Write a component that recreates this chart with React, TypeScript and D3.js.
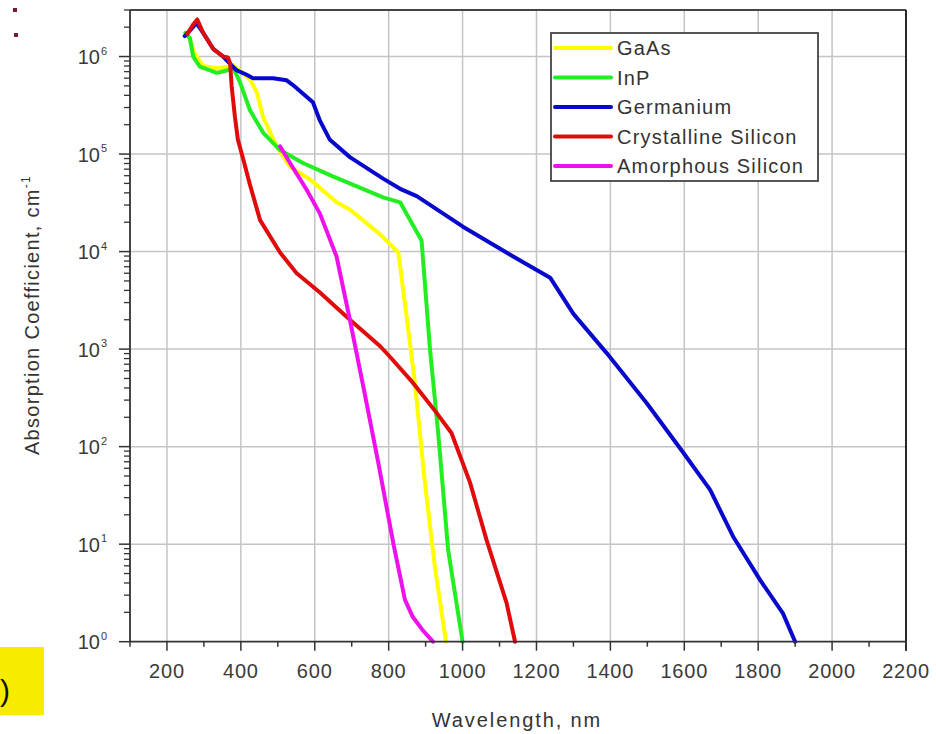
import React from 'react';
import * as d3 from 'd3';

const SERIES_NAMES = ['GaAs', 'InP', 'Germanium', 'Crystalline Silicon', 'Amorphous Silicon'];
const SERIES_COLORS = ['#ffff00', '#22ee22', '#0808cc', '#e00c0c', '#ee11ee'];

const GAAS_WL = [250, 262, 276, 298, 335, 362, 378, 400, 425, 443, 460, 497, 533, 587, 659, 695, 777, 826, 849, 871, 898, 925, 955];
const GAAS_AC = [1.75e6, 1.5e6, 1.05e6, 8.0e5, 7.6e5, 7.8e5, 8.2e5, 7.0e5, 5.8e5, 4.3e5, 2.4e5, 1.2e5, 7.4e4, 5.5e4, 3.2e4, 2.7e4, 1.5e4, 9.8e3, 2.1e3, 450, 43, 5.9, 1.0];

const INP_WL = [250, 262, 271, 289, 335, 362, 379, 390, 398, 425, 460, 506, 568, 649, 785, 831, 889, 912, 934, 961, 1000];
const INP_AC = [1.75e6, 1.55e6, 1.0e6, 7.9e5, 6.8e5, 7.2e5, 7.6e5, 6.3e5, 5.4e5, 2.8e5, 1.66e5, 1.1e5, 8.1e4, 5.9e4, 3.6e4, 3.2e4, 1.3e4, 980, 138, 8.7, 1.0];

const GE_WL = [248, 265, 280, 298, 325, 352, 375, 389, 416, 433, 487, 524, 541, 595, 614, 641, 695, 785, 831, 876, 1001, 1137, 1237, 1300, 1390, 1498, 1597, 1670, 1732, 1805, 1867, 1900];
const GE_AC = [1.62e6, 1.9e6, 2.2e6, 1.75e6, 1.2e6, 1.0e6, 8.1e5, 7.2e5, 6.5e5, 6.0e5, 6.0e5, 5.7e5, 5.1e5, 3.4e5, 2.2e5, 1.4e5, 9.3e4, 5.6e4, 4.4e4, 3.7e4, 1.8e4, 8.9e3, 5.4e3, 2.3e3, 910, 280, 87, 36, 12, 4.3, 1.95, 1.0];

const CSI_WL = [255, 270, 282, 298, 325, 352, 365, 371, 375, 384, 392, 407, 425, 452, 506, 551, 614, 695, 777, 804, 866, 925, 970, 1020, 1047, 1065, 1119, 1142];
const CSI_AC = [1.7e6, 2.1e6, 2.4e6, 1.75e6, 1.2e6, 1.0e6, 9.8e5, 8.5e5, 5.0e5, 2.4e5, 1.4e5, 8.7e4, 4.8e4, 2.1e4, 9.8e3, 6.0e3, 3.8e3, 2.0e3, 1.07e3, 830, 450, 234, 138, 43, 19, 11, 2.5, 1.0];

const ASI_WL = [506, 533, 578, 614, 659, 695, 731, 772, 813, 844, 865, 893, 920];
const ASI_AC = [1.2e5, 8.1e4, 4.3e4, 2.45e4, 8.9e3, 2.0e3, 420, 68, 10, 2.7, 1.8, 1.3, 1.0];

const X_MAJOR = [200, 400, 600, 800, 1000, 1200, 1400, 1600, 1800, 2000, 2200];
const X_MINOR = [100, 300, 500, 700, 900, 1100, 1300, 1500, 1700, 1900, 2100];
const Y_DECADES = [0, 1, 2, 3, 4, 5, 6];

const FONT = '"Liberation Sans", Arial, sans-serif';

export default function App() {
  const x = d3.scaleLinear().domain([100, 2200]).range([130, 906]);
  const y = d3.scaleLog().domain([1, 3e6]).range([641.7, 10]);
  const line = d3.line<[number, number]>().x(d => x(d[0])).y(d => y(d[1]));

  const series = [
    d3.zip(GAAS_WL, GAAS_AC),
    d3.zip(INP_WL, INP_AC),
    d3.zip(GE_WL, GE_AC),
    d3.zip(CSI_WL, CSI_AC),
    d3.zip(ASI_WL, ASI_AC),
  ] as [number, number][][];

  const yMinor: number[] = [];
  for (let k = 0; k <= 6; k++) {
    for (let m = 2; m <= 9; m++) {
      const v = m * Math.pow(10, k);
      if (v <= 3e6) yMinor.push(v);
    }
  }

  const left = x(100), right = x(2200), top = y(3e6), bottom = y(1);

  return (
    <svg width={936} height={734} style={{ position: 'absolute', left: 0, top: 0, background: '#fff' }} fontFamily={FONT}>
      <rect x={0} y={0} width={936} height={734} fill="#fff" />
      {/* decorations */}
      <rect x={13} y={8} width={4} height={4} fill="#7a1838" />
      <rect x={14} y={33} width={4} height={4} fill="#7a1838" />
      <rect x={0} y={647} width={44} height={68} fill="#f7ec00" />
      <text x={0} y={701} fontSize={30} fill="#111">)</text>

      {/* grid */}
      {X_MAJOR.filter(v => v < 2200).map(v => (
        <line key={'gx' + v} x1={x(v)} x2={x(v)} y1={top} y2={bottom} stroke="#c4c4c4" strokeWidth={1.5} />
      ))}
      {Y_DECADES.filter(k => k > 0).map(k => (
        <line key={'gy' + k} x1={left} x2={right} y1={y(Math.pow(10, k))} y2={y(Math.pow(10, k))} stroke="#c4c4c4" strokeWidth={1.5} />
      ))}

      {/* curves */}
      {series.map((s, i) => (
        <path key={'s' + i} d={line(s) || ''} fill="none" stroke={SERIES_COLORS[i]} strokeWidth={4} strokeLinejoin="round" strokeLinecap="round" />
      ))}

      {/* frame */}
      <line x1={left} x2={right} y1={top} y2={top} stroke="#444" strokeWidth={2} />
      <line x1={right} x2={right} y1={top} y2={bottom + 9} stroke="#111" strokeWidth={1.8} />
      <line x1={left} x2={left} y1={top} y2={bottom} stroke="#333" strokeWidth={1.8} />
      <line x1={left} x2={right} y1={bottom} y2={bottom} stroke="#333" strokeWidth={1.8} />

      {/* x ticks */}
      {X_MAJOR.map(v => (
        <g key={'xt' + v}>
          <line x1={x(v)} x2={x(v)} y1={bottom} y2={bottom + 9} stroke="#333" strokeWidth={1.5} />
          <text x={x(v)} y={678} textAnchor="middle" fontSize={20} letterSpacing={0.8} fill="#3a3a3a">{v}</text>
        </g>
      ))}
      {X_MINOR.map(v => (
        <line key={'xm' + v} x1={x(v)} x2={x(v)} y1={bottom} y2={bottom + 5} stroke="#333" strokeWidth={1.5} />
      ))}

      {/* y ticks */}
      {Y_DECADES.map(k => {
        const yy = y(Math.pow(10, k));
        return (
          <g key={'yt' + k}>
            <line x1={left - 11} x2={left} y1={yy} y2={yy} stroke="#333" strokeWidth={1.5} />
            <text x={100} y={yy + 7.5} textAnchor="end" fontSize={20} fill="#3a3a3a">10</text>
            <text x={101} y={yy - 2} fontSize={11} fill="#3a3a3a">{k}</text>
          </g>
        );
      })}
      {yMinor.map(v => (
        <line key={'ym' + v} x1={left - 6} x2={left} y1={y(v)} y2={y(v)} stroke="#333" strokeWidth={1.3} />
      ))}

      {/* axis titles */}
      <text x={517} y={727} textAnchor="middle" fontSize={20} letterSpacing={1.9} fill="#333">Wavelength, nm</text>
      <text transform="translate(39,315) rotate(-90)" textAnchor="middle" fontSize={20} letterSpacing={1.3} fill="#333">
        Absorption Coefficient, cm<tspan fontSize={12} dy={-9}>-1</tspan>
      </text>

      {/* legend */}
      <rect x={551} y={33} width={267} height={148} fill="#fff" stroke="#444" strokeWidth={1.8} />
      {SERIES_NAMES.map((name, i) => {
        const ly = 48 + i * 29.5;
        return (
          <g key={'lg' + i}>
            <line x1={555} x2={611} y1={ly} y2={ly} stroke={SERIES_COLORS[i]} strokeWidth={4} strokeLinecap="round" />
            <text x={617} y={ly + 7} fontSize={20} letterSpacing={1.2} fill="#333">{name}</text>
          </g>
        );
      })}
    </svg>
  );
}
